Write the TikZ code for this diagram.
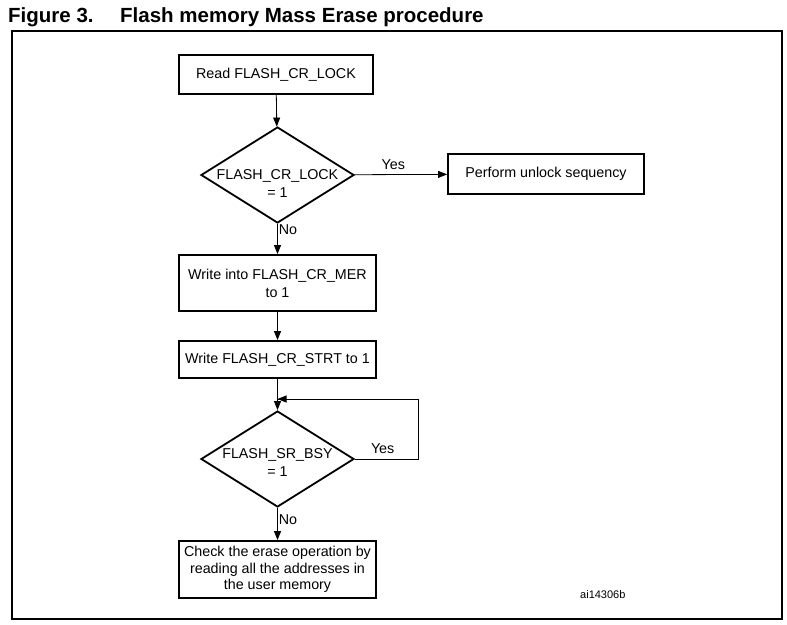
\documentclass[tikz,border=0pt]{standalone}
\usepackage{fontspec}
\setmainfont{Liberation Sans}
\usetikzlibrary{arrows.meta, positioning, shapes.geometric}
\newcommand{\testtext}[2]{\raisebox{#1}[0pt][0pt]{\begin{tabular}{@{}c@{}}#2\end{tabular}}}

\begin{document}
\begin{tikzpicture}[x=1pt, y=-1pt,
    stepbox/.style={draw, line width=1.8pt, rectangle, minimum width=197pt,
      inner sep=1pt, align=center, font=\fontsize{14.3}{16.5}\selectfont},
    testbox/.style={draw, line width=1.8pt, diamond, aspect=1.594,
      minimum width=153pt, minimum height=96pt, inner sep=0pt,
      font=\fontsize{14.3}{18}\selectfont},
    flow/.style={line width=0.8pt, -{Triangle[length=9pt, width=7pt]}},
    lbl/.style={font=\fontsize{14.3}{16}\selectfont, inner sep=1pt}]
  \useasboundingbox (0,0) rectangle (787,624);
  % Title and frame
  \node[anchor=base west, font=\bfseries\fontsize{20.5}{24}\selectfont, inner sep=0pt]
    (fignum) at (8,22) {Figure 3.};
  \node[anchor=base west, font=\bfseries\fontsize{20.5}{24}\selectfont, inner sep=0pt]
    (figtitle) at (120,22) {Flash memory Mass Erase procedure};
  \draw[line width=1.3pt] (12,31) rectangle (782,619);
  % Steps of the procedure
  \node[stepbox, minimum width=194pt, minimum height=39pt] (readlock) at (276,74.5)
    {Read FLASH\_CR\_LOCK};
  \node[testbox] (lockset) at (277.5,175)
    {\testtext{-13.6pt}{FLASH\_CR\_LOCK\\= 1}};
  \node[stepbox, minimum width=196pt, minimum height=40pt] (unlock) at (546,174)
    {Perform unlock sequency};
  \node[stepbox, minimum height=56pt, font=\fontsize{14.3}{18}\selectfont] (setmer)
    at (277.5,283) {Write into FLASH\_CR\_MER\\to 1};
  \node[stepbox, minimum height=37pt] (setstrt) at (277.5,359.5)
    {Write FLASH\_CR\_STRT to 1};
  \node[testbox] (busy) at (277.5,459) {\testtext{-8.6pt}{FLASH\_SR\_BSY\\= 1}};
  \node[stepbox, minimum height=57pt] (check) at (277.5,569.5)
    {Check the erase operation by\\reading all the addresses in\\the user memory};
  \coordinate (loopin) at (277.5,399);
  \coordinate (loopcorner) at (418,459);
  % Connectors
  \draw[flow] (readlock) -- (lockset);
  \draw[flow] (lockset) -- node[lbl, above=4pt, pos=0.42] (yeslock) {Yes} (unlock);
  \draw[flow] (lockset) -- node[lbl, right, pos=0.2] (nolock) {No} (setmer);
  \draw[flow] (setmer) -- (setstrt);
  \draw[flow] (setstrt) -- (busy);
  \draw[line width=0.8pt] (busy.east) -- node[lbl, above=4pt, pos=0.44] (yesbusy) {Yes}
    (loopcorner) |- (loopin);
  \draw[flow] (loopcorner |- loopin) -- (loopin);
  \draw[flow] (busy) -- node[lbl, right, pos=0.35] (nobusy) {No} (check);
  % Drawing reference
  \node[font=\fontsize{11}{13}\selectfont, anchor=base west, inner sep=0pt]
    (ref) at (580,598) {ai14306b};
\end{tikzpicture}
\end{document}
